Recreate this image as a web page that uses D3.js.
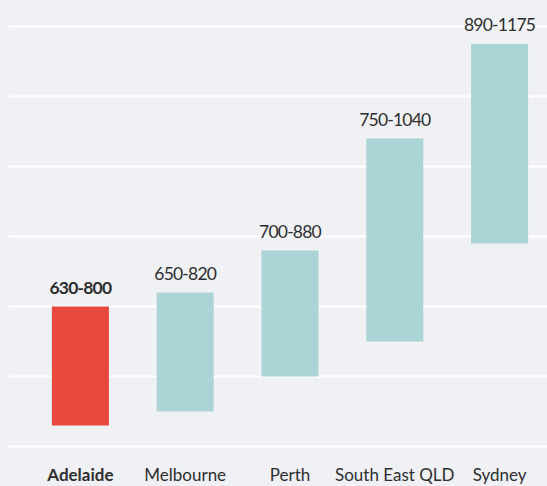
<!DOCTYPE html>
<html>
<head>
<meta charset="utf-8">
<script src="https://cdn.jsdelivr.net/npm/d3@7"></script>
<style>
  html, body { margin: 0; padding: 0; background: #f0f1f5; }
  svg { display: block; }
  .label { font-family: Lato, "Open Sans", sans-serif; fill: #2e2e2e; }
</style>
</head>
<body>
<div id="chart"></div>
<script>
var cities = ['Adelaide', 'Melbourne', 'Perth', 'South East QLD', 'Sydney'];
var lowValues = [630, 650, 700, 750, 890];
var highValues = [800, 820, 880, 1040, 1175];
var gridTicks = [600, 700, 800, 900, 1000, 1100, 1200];
var highlight = 'Adelaide';

var width = 547, height = 486;

var rows = cities.map(function(d, i){ return {city: d, low: lowValues[i], high: highValues[i]}; });

var svg = d3.select('#chart')
  .append('svg')
  .attr('width', width)
  .attr('height', height);

var x = d3.scaleBand()
  .domain(cities)
  .range([28, 552])
  .paddingInner(0.456)
  .paddingOuter(0.228);

var y = d3.scaleLinear()
  .domain([600, 1200])
  .range([446.5, 26.5]);

// white horizontal grid lines
svg.selectAll('line.grid')
  .data(gridTicks)
  .enter()
  .append('line')
  .attr('class', 'grid')
  .attr('x1', 9)
  .attr('x2', width)
  .attr('y1', function(d){ return y(d); })
  .attr('y2', function(d){ return y(d); })
  .attr('stroke', '#ffffff')
  .attr('stroke-width', 2);

// floating bars low -> high
svg.selectAll('rect.bar')
  .data(rows)
  .enter()
  .append('rect')
  .attr('class', 'bar')
  .attr('x', function(d){ return x(d.city); })
  .attr('width', x.bandwidth())
  .attr('y', function(d){ return y(d.high); })
  .attr('height', function(d){ return y(d.low) - y(d.high); })
  .attr('fill', function(d){ return d.city == highlight ? '#e9483f' : '#abd4d6'; });

// range labels above the bars
svg.selectAll('text.value')
  .data(rows)
  .enter()
  .append('text')
  .attr('class', 'label value')
  .attr('x', function(d){ return x(d.city) + x.bandwidth() / 2; })
  .attr('y', function(d){ return y(d.high) - 13; })
  .attr('text-anchor', 'middle')
  .style('font-size', '17.5px')
  .style('letter-spacing', '-0.8px')
  .style('font-weight', function(d){ return d.city == highlight ? 'bold' : 'normal'; })
  .text(function(d){ return d.low + '-' + d.high; });

// category labels
svg.selectAll('text.city')
  .data(rows)
  .enter()
  .append('text')
  .attr('class', 'label city')
  .attr('x', function(d){ return x(d.city) + x.bandwidth() / 2; })
  .attr('y', 480.5)
  .attr('text-anchor', 'middle')
  .style('font-size', '17px')
  .style('font-weight', function(d){ return d.city == highlight ? 'bold' : 'normal'; })
  .text(function(d){ return d.city; });
</script>
</body>
</html>
